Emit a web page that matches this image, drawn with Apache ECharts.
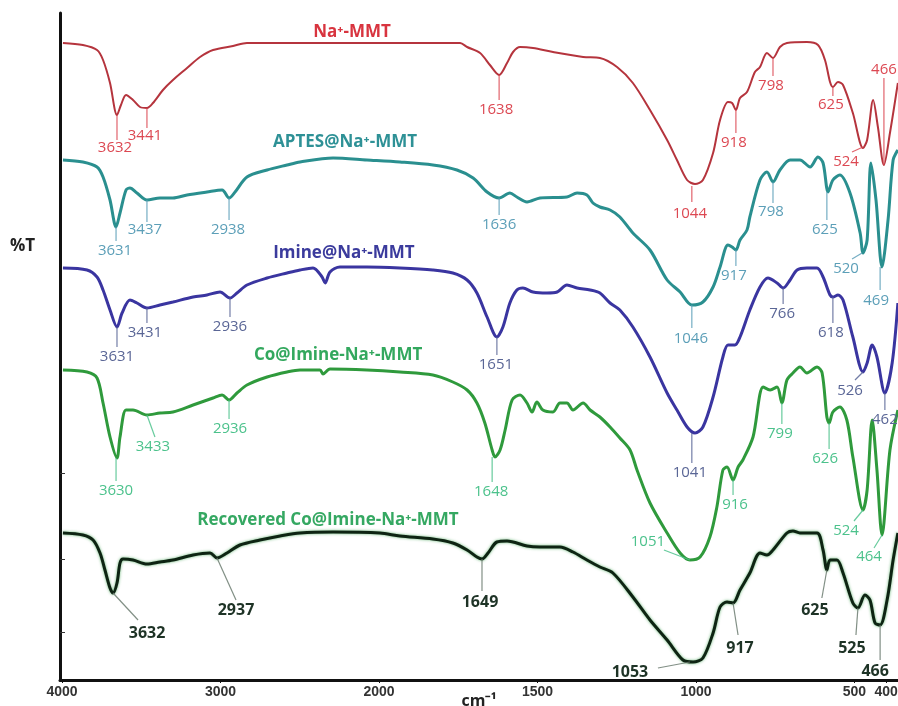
<!DOCTYPE html>
<html><head><meta charset="utf-8">
<script src="https://cdn.jsdelivr.net/npm/echarts@6/dist/echarts.min.js"></script>
<style>html,body{margin:0;padding:0;background:#fff}#c{width:898px;height:706px}</style>
</head><body><div id="c"></div>
<script>
// ---- axis ----
const tickWavenumbers = [4000, 3000, 2000, 1500, 1000, 500, 400];
const yTicks = [48, 121, 207];

// ---- spectra: [wavenumber cm-1, %T (offset, arbitrary)] ----
const naMMT = [[3994,637],[3868,635],[3779,630],[3741,620],[3697,597],[3653,565],[3628,575],[3596,585],[3552,580],[3508,573],[3464,572],[3426,577],[3363,590],[3300,600],[3211,612],[3129,623],[3047,630],[2921,634],[2833,637],[2498,637],[2000,637],[1744,637],[1722,633],[1681,627],[1650,615],[1621,605],[1596,617],[1577,628],[1555,633],[1514,632],[1451,628],[1356,623],[1303,622],[1249,613],[1199,597],[1145,570],[1091,540],[1060,520],[1028,500],[1003,496],[978,500],[946,527],[924,560],[899,578],[886,577],[874,570],[861,582],[839,588],[814,608],[798,613],[776,627],[757,622],[735,633],[713,637],[650,638],[615,635],[593,620],[577,598],[568,593],[552,598],[536,595],[505,567],[473,532],[460,540],[441,580],[426,553],[407,515],[388,547],[363,597]];
const aptesMMT = [[3994,520],[3868,518],[3779,513],[3741,503],[3697,480],[3659,453],[3634,467],[3596,490],[3571,492],[3527,487],[3464,480],[3382,482],[3300,482],[3211,485],[3085,488],[2990,490],[2946,482],[2908,488],[2833,503],[2706,510],[2580,515],[2498,518],[2290,522],[2076,520],[1934,518],[1830,515],[1754,510],[1703,502],[1659,488],[1621,482],[1587,487],[1565,483],[1533,478],[1492,482],[1407,483],[1375,487],[1344,485],[1325,477],[1303,473],[1271,470],[1240,463],[1199,447],[1145,430],[1091,400],[1050,388],[1013,375],[978,378],[946,393],[924,413],[899,435],[886,433],[874,430],[861,440],[839,450],[830,463],[798,500],[776,508],[757,498],[735,510],[703,520],[672,520],[640,513],[615,523],[599,517],[583,488],[568,500],[546,505],[514,487],[482,447],[473,427],[460,440],[448,517],[432,480],[413,413],[394,460],[378,520],[363,530]];
const imineMMT = [[3994,412],[3842,410],[3779,403],[3741,390],[3697,370],[3653,353],[3621,367],[3571,380],[3527,377],[3464,372],[3382,375],[3300,378],[3173,383],[3085,385],[3003,388],[2940,382],[2896,387],[2833,395],[2706,402],[2580,407],[2498,410],[2416,412],[2359,403],[2340,397],[2309,408],[2246,413],[2076,413],[1934,412],[1830,410],[1767,407],[1722,400],[1691,387],[1659,363],[1628,343],[1609,353],[1587,377],[1565,390],[1546,392],[1514,388],[1470,387],[1438,388],[1407,395],[1375,392],[1334,390],[1303,387],[1271,377],[1240,370],[1199,353],[1145,323],[1091,287],[1060,270],[1028,253],[1003,247],[978,253],[946,283],[915,323],[899,335],[877,335],[861,343],[830,370],[798,393],[773,402],[744,397],[725,392],[703,400],[681,410],[650,412],[618,412],[599,403],[577,385],[568,383],[552,385],[536,380],[505,343],[473,308],[460,317],[444,335],[429,323],[404,287],[381,317],[363,377]];
const coImineMMT = [[3994,310],[3842,308],[3779,302],[3741,277],[3697,243],[3653,222],[3634,243],[3596,270],[3552,270],[3464,265],[3382,267],[3300,268],[3173,275],[3047,282],[2990,285],[2946,280],[2896,287],[2833,295],[2706,303],[2580,308],[2498,310],[2372,310],[2353,306],[2309,311],[2076,310],[1934,308],[1830,305],[1767,298],[1722,290],[1691,277],[1666,257],[1643,230],[1634,223],[1618,230],[1602,250],[1580,280],[1555,285],[1533,277],[1517,268],[1502,278],[1483,270],[1451,268],[1429,277],[1407,277],[1388,270],[1356,277],[1334,270],[1303,263],[1271,253],[1240,242],[1208,230],[1186,210],[1145,177],[1091,147],[1050,127],[1019,120],[987,123],[956,143],[934,173],[915,210],[902,213],[883,200],[867,213],[852,220],[820,243],[788,293],[766,290],[744,293],[729,277],[713,300],[694,307],[672,313],[650,307],[618,313],[602,307],[587,263],[580,257],[568,268],[546,273],[524,260],[505,223],[473,170],[460,190],[444,260],[429,210],[413,145],[388,230],[363,270]];
const recoveredMMT = [[3994,147],[3868,145],[3804,140],[3760,127],[3729,110],[3697,92],[3678,87],[3653,97],[3634,117],[3615,121],[3552,120],[3464,116],[3382,118],[3300,120],[3173,125],[3066,127],[3022,122],[2959,127],[2877,135],[2751,140],[2624,144],[2498,147],[2290,148],[1997,147],[1934,144],[1830,141],[1767,137],[1722,130],[1691,123],[1675,121],[1656,127],[1628,138],[1596,139],[1533,134],[1492,133],[1429,133],[1388,128],[1344,120],[1303,113],[1262,107],[1199,83],[1145,60],[1091,40],[1041,20],[1009,18],[978,22],[946,47],[924,73],[902,78],[883,77],[861,90],[830,107],[798,127],[776,125],[757,130],[713,147],[694,149],[672,147],[618,147],[599,130],[587,110],[577,120],[555,120],[536,107],[505,77],[489,72],[467,85],[451,80],[435,57],[419,55],[397,80],[378,120],[363,147]];

// ---- series names ----
const seriesNames = ['Na⁺-MMT', 'APTES@Na⁺-MMT', 'Imine@Na⁺-MMT', 'Co@Imine-Na⁺-MMT', 'Recovered Co@Imine-Na⁺-MMT'];
// name anchor [wavenumber, %T]
const nameAnchors = [[2170,648],[2214,538],[2221,427],[2258,325],[2322,160]];

// ---- peak labels: [text, wavenumber, %T at peak] ----
const naPeaks = [['3632',3653,565],['3441',3464,572],['1638',1621,605],['1044',1013,494],['918',874,570],['798',757,622],['625',568,593],['524',473,533],['466',407,515]];
const aptesPeaks = [['3631',3659,453],['3437',3464,480],['2938',2946,482],['1636',1621,482],['1046',1013,375],['917',874,430],['798',757,498],['625',587,488],['520',476,427],['469',419,413]];
const iminePeaks = [['3631',3653,353],['3431',3464,372],['2936',2940,382],['1651',1628,343],['1041',1013,247],['766',725,392],['618',568,383],['526',473,308],['462',404,287]];
const coPeaks = [['3630',3659,222],['3433',3464,265],['2936',2946,280],['1648',1643,223],['1051',1019,120],['916',883,200],['799',729,277],['626',580,257],['524',473,170],['464',413,145]];
const recPeaks = [['3632',3678,87],['2937',3022,122],['1649',1675,121],['1053',1019,18],['917',883,77],['625',587,110],['525',489,72],['466',419,55]];

// ---- label layout (pixel offsets from peak): [labelDx, labelDy, leaderDx, leaderDy] ----
const naLayout = [[-2,33,0,25],[-2,28,0,20],[-3,35,0,25],[-2,28,0,16],[-2,33,0,23],[-2,28,0,18],[-2,18,0,9],[-17,15,-11,5],[0,-95,0,-87]];
const aptesLayout = [[-1,24,0,14],[-2,30,0,22],[-1,32,0,22],[0,27,0,17],[-1,34,0,23],[-2,26,0,16],[-2,30,0,21],[-2,38,0,28],[-16,16,-10,6],[-4,34,0,23]];
const imineLayout = [[0,30,0,20],[-2,25,0,15],[0,29,0,19],[-1,28,0,18],[-2,40,0,30],[-1,26,0,16],[-2,36,0,26],[-13,19,-8,8],[0,27,0,17]];
const coLayout = [[0,33,0,23],[6,32,8,22],[1,29,0,19],[-1,35,0,25],[-42,-18,-26,-10],[2,25,0,15],[-2,31,0,21],[-4,36,0,26],[-17,21,-9,11],[-13,22,-8,13]];
const recLayout = [[34,40,25,27],[19,52,19,42],[-2,43,0,32],[-60,10,-32,6],[7,45,5,32],[-12,40,-5,28],[-6,40,-2,27],[-5,46,0,35]];

// ---- styling ----
const curveColors = ['#b5343d', '#2a8f8f', '#3a35a0', '#2f9a3c', '#0e2413'];
const curveWidths = [2, 3, 3, 3, 3];
const titleColors = ['#d8343f', '#2e9196', '#3b3b9d', '#33a85e', '#35a862'];
const labelColors = ['#dc4852', '#5c9fb8', '#5a6696', '#4cc28c', '#1e3326'];

// wavenumber axis: 4000-2000 compressed, 2000-400 expanded 2x
function toT(w) { return w >= 2000 ? 4000 - w : 2000 + 2 * (2000 - w); }
function fromT(t) { return t <= 2000 ? 4000 - t : 2000 - (t - 2000) / 2; }

const spectra = [naMMT, aptesMMT, imineMMT, coImineMMT, recoveredMMT];
const peakSets = [naPeaks, aptesPeaks, iminePeaks, coPeaks, recPeaks];
const layouts = [naLayout, aptesLayout, imineLayout, coLayout, recLayout];

const series = [];
spectra.forEach((d, i) => {
  series.push({
    type: 'line', name: seriesNames[i], data: d.map(p => [toT(p[0]), p[1]]),
    showSymbol: false, smooth: 0.3, animation: false, silent: true, z: 3,
    lineStyle: i === 4
      ? { color: curveColors[i], width: curveWidths[i], shadowColor: 'rgba(40,150,60,0.7)', shadowBlur: 3 }
      : { color: curveColors[i], width: curveWidths[i] }
  });
});
peakSets.forEach((pk, i) => {
  const lay = layouts[i];
  const col = labelColors[i];
  const font = i === 4 ? 'bold 16px "Open Sans", sans-serif' : '15px "Open Sans", sans-serif';
  series.push({
    type: 'custom', coordinateSystem: 'cartesian2d', silent: true, animation: false, z: 10,
    data: pk.map(p => [toT(p[1]), p[2]]),
    renderItem: (params, api) => {
      const k = params.dataIndex;
      const c = api.coord([api.value(0), api.value(1)]);
      const o = lay[k];
      return {
        type: 'group', children: [
          { type: 'line', shape: { x1: c[0], y1: c[1], x2: c[0] + o[2], y2: c[1] + o[3] },
            style: { stroke: i === 4 ? '#6b7b70' : col, lineWidth: 1.2, opacity: 0.85 } },
          { type: 'text', style: { text: pk[k][0], x: c[0] + o[0], y: c[1] + o[1], fill: col, font: font, align: 'center', verticalAlign: 'middle' } }
        ]
      };
    }
  });
});
series.push({
  type: 'custom', coordinateSystem: 'cartesian2d', silent: true, animation: false, z: 11,
  data: nameAnchors.map(p => [toT(p[0]), p[1]]),
  renderItem: (params, api) => {
    const k = params.dataIndex;
    const c = api.coord([api.value(0), api.value(1)]);
    return { type: 'text', style: { text: seriesNames[k], x: c[0], y: c[1], fill: titleColors[k],
      font: 'bold 17px "Open Sans", sans-serif', align: 'center', verticalAlign: 'middle' } };
  }
});

const tickT = tickWavenumbers.map(toT);
const chart = echarts.init(document.getElementById('c'), null, { renderer: 'canvas' });
chart.setOption({
  animation: false,
  backgroundColor: '#fff',
  grid: { left: 60, right: 0, top: 13, bottom: 26, containLabel: false, outerBoundsMode: 'none' },
  xAxis: {
    type: 'value', min: toT(4012.6), max: toT(362.6),
    name: 'cm⁻¹', nameLocation: 'middle', nameGap: 13, nameMoveOverlap: false,
    nameTextStyle: { fontFamily: 'Open Sans', fontWeight: 'bold', fontSize: 16, color: '#222', verticalAlign: 'top' },
    axisLine: { show: true, onZero: false, lineStyle: { color: '#111', width: 3 } },
    axisTick: { show: true, customValues: tickT, length: 3, lineStyle: { color: '#111', width: 1 } },
    axisLabel: { show: true, customValues: tickT, formatter: v => String(Math.round(fromT(v))),
      fontFamily: 'Liberation Sans', fontWeight: 'bold', fontSize: 14, color: '#333', margin: 5 },
    splitLine: { show: false }
  },
  yAxis: {
    type: 'value', min: 0, max: 667,
    axisLine: { show: true, onZero: false, lineStyle: { color: '#111', width: 3 } },
    axisTick: { show: true, inside: true, customValues: yTicks, length: 5, lineStyle: { color: '#333', width: 1 } },
    axisLabel: { show: false },
    splitLine: { show: false }
  },
  graphic: [{ type: 'text', left: 10, top: 238, style: { text: '%T', font: 'bold 17px "Open Sans", sans-serif', fill: '#222' } }],
  series: series
});
</script>
</body></html>
